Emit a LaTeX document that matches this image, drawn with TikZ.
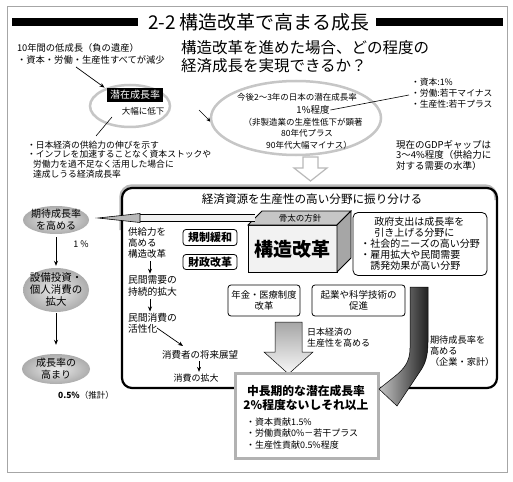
\documentclass[tikz,border=0pt]{standalone}
\usepackage{fontspec}
\setmainfont{Noto Sans CJK JP}
\usetikzlibrary{shapes.geometric,arrows.meta}
\newcommand{\myfs}[2]{\fontsize{#1}{#2}\selectfont}
\begin{document}
\begin{tikzpicture}[x=1pt,y=-1pt,
  tx/.style={inner sep=0pt, outer sep=0pt},
  arr/.style={-{Stealth[length=5pt,width=4pt]}, line width=0.7pt},
  rbox/.style={draw, rounded corners=3pt, line width=0.8pt, fill=white, inner sep=0pt},
  grayell/.style={ellipse, inner sep=0pt, inner color=gray!15, outer color=gray!65},
  ring/.style={ellipse, draw=gray!45, line width=2.5pt, inner sep=0pt}]
\useasboundingbox (0,0) rectangle (513,481);
\fill[white] (0,0) rectangle (513,481);
\draw[gray!70, line width=0.8pt] (7,6) rectangle (507,472);

% title
\fill (12,18) rectangle (138,26);
\fill (376,18) rectangle (503,26);
\node[tx, font=\myfs{19}{22}] (title) at (259,22) {2-2 構造改革で高まる成長};

% top-left
\node[tx, anchor=west, align=left, font=\myfs{9.3}{12}] (legacy) at (17,53.5) {10年間の低成長（負の遺産）\\・資本・労働・生産性すべてが減少};
\node[tx, anchor=west, align=left, font=\myfs{15.5}{18}] (q) at (181,57) {構造改革を進めた場合、どの程度の\\経済成長を実現できるか？};

% ellipse 1
\node[ring, minimum width=80pt, minimum height=42pt] (e1) at (130,106) {};
\node[tx, fill=black, text=white, inner xsep=3pt, inner ysep=2pt, font=\myfs{10}{12}] (sz) at (135,95) {潜在成長率};
\node[tx, font=\myfs{8.5}{10}] (teika) at (143,111) {大幅に低下};
\coordinate (a1) at (76,67);
\draw[arr, shorten >=1pt] (a1) -- (e1);

\node[tx, anchor=west, align=left, font=\myfs{8.8}{9.8}] (expl) at (27,159.5) {・日本経済の供給力の伸びを示す\\・インフレを加速することなく資本ストックや\\\hspace*{6pt}労働力を過不足なく活用した場合に\\\hspace*{6pt}達成しうる経済成長率};
\coordinate (l1) at (112,117);
\coordinate (l2) at (96,136);
\draw[line width=0.6pt] (l1) -- (l2);

% ellipse 2
\coordinate (a2) at (199,110);
\coordinate (a2e) at (211,122);
\draw[arr] (a2) -- (a2e);
\node[ring, minimum width=170pt, minimum height=74pt] (e2) at (296,118) {};
\node[tx, font=\myfs{8.5}{10}] (e2a) at (297,97) {今後2～3年の日本の潜在成長率};
\node[tx, font=\myfs{9.5}{11}] (p1) at (313,110) {1\%程度};
\node[tx, font=\myfs{8.5}{10}] (e2c) at (303,122) {（非製造業の生産性低下が顕著};
\node[tx, font=\myfs{8.5}{10}] (e2d) at (307,133) {80年代プラス};
\node[tx, font=\myfs{8.5}{10}] (e2e) at (309,145) {90年代大幅マイナス）};

\node[tx, anchor=west, align=left, font=\myfs{8.8}{11}] (rl) at (411,93) {・資本:1\%\\・労働:若干マイナス\\・生産性:若干プラス};
\draw[line width=0.6pt] ([xshift=1pt]p1.east) -- ([xshift=-2pt,yshift=-2pt]rl.west);

\node[tx, anchor=west, align=left, font=\myfs{9.5}{10.5}] (gdp) at (396,155) {現在のGDPギャップは\\3～4\%程度（供給力に\\対する需要の水準）};

% hollow arrow
\draw[gray!55, line width=1.2pt, fill=white, line join=miter] (303,157) -- (318,157) -- (318,168) -- (327,168) -- (310.5,181) -- (294,168) -- (303,168) -- cycle;

% main panel
\draw[gray!55, line width=3.5pt, rounded corners=11pt] (121,230) -- (121,186) -- (496,186) -- (496,200);
\draw[line width=2.2pt, rounded corners=10pt] (122,188) rectangle (497,388);
\node[tx, font=\myfs{11.6}{13}] (hdr) at (312,199) {経済資源を生産性の高い分野に振り分ける};

% 3D block
\fill[gray!10] (248,225) rectangle (337,272);
\draw[line width=0.8pt] (248,225) rectangle (337,272);
\filldraw[fill=gray!45, line width=0.8pt] (248,225) -- (262,211) -- (351,211) -- (337,225) -- cycle;
\filldraw[fill=gray!70, line width=0.8pt] (337,225) -- (351,211) -- (351,258) -- (337,272) -- cycle;
\node[tx, font=\myfs{8.5}{10}] (hone) at (300,218) {骨太の方針};
\node[tx, font=\bfseries\myfs{19}{22}] (kozo) at (292,249) {構造改革};

% long left arrow
\fill[gray!12] (140,214.5) rectangle (255,221.5);
\draw[line width=0.6pt] (140,214.5) -- (255,214.5) (140,221.5) -- (255,221.5);
\filldraw[fill=gray!55, line width=0.6pt] (98,218) -- (140,213.5) -- (140,222.5) -- cycle;

\node[rbox, minimum width=54pt, minimum height=16pt, font=\bfseries\myfs{11}{12}] (kisei) at (210,237.5) {規制緩和};
\node[rbox, minimum width=54pt, minimum height=15pt, font=\bfseries\myfs{11}{12}] (zaisei) at (210,262) {財政改革};

% left column in panel
\node[tx, anchor=west, align=left, font=\myfs{9.5}{11}] (kyo) at (128,243) {供給力を\\高める\\構造改革};
\node[tx, anchor=west, align=left, font=\myfs{9.8}{12}] (min) at (128,286) {民間需要の\\持続的拡大};
\node[tx, anchor=west, align=left, font=\myfs{9.8}{11}] (shohi) at (128,323.5) {民間消費の\\活性化};
\draw[arr, shorten <=3pt, shorten >=2pt] (150,0 |- kyo.south) -- (150,0 |- min.north);
\draw[arr, shorten <=3pt, shorten >=2pt] (150,0 |- min.south) -- (150,0 |- shohi.north);
\node[tx, font=\myfs{9.5}{11}] (shorai) at (200,355) {消費者の将来展望};
\node[tx, font=\myfs{9}{11}] (kakudai) at (196,378) {消費の拡大};
\coordinate (d1) at (157,328);
\coordinate (d2) at (183,346);
\draw[arr] (d1) -- (d2);
\draw[arr, shorten <=2pt, shorten >=2pt] (199,0 |- shorai.south) -- (199,0 |- kakudai.north);

\node[rbox, minimum width=72pt, minimum height=31pt, align=center, font=\myfs{9.3}{10.5}] (nenkin) at (264,300.5) {年金・医療制度\\改革};
\node[rbox, minimum width=93pt, minimum height=31pt, align=center, font=\myfs{9.5}{10.5}] (kigyo) at (358.5,300.5) {起業や科学技術の\\促進};

% gray down arrow
\path[draw, line width=0.5pt, top color=gray!70, bottom color=gray!5] (275,322) -- (302,322) -- (302,352) -- (313,352) -- (288.5,374) -- (264,352) -- (275,352) -- cycle;
\node[tx, anchor=west, align=left, font=\myfs{9}{11}] (seisan) at (307,337.5) {日本経済の\\生産性を高める};

\node[rbox, rounded corners=5pt, minimum width=134pt, minimum height=63pt, align=left, font=\myfs{10}{11}] (seifu) at (420,244) {\hspace*{14pt}政府支出は成長率を\\\hspace*{14pt}引き上げる分野に\\・社会的ニーズの高い分野\\・雇用拡大や民間需要\\\hspace*{10pt}誘発効果が高い分野};

\node[tx, anchor=west, align=left, font=\myfs{9.2}{11}] (kitai2) at (430,351) {期待成長率を\\高める\\（企業・家計）};

% left ellipses
\node[grayell, minimum width=66pt, minimum height=28pt] (k1) at (56,220) {};
\node[tx, align=center, font=\myfs{10}{12}] (k1t) at (k1) {期待成長率\\を高める};
\node[grayell, minimum width=66pt, minimum height=44pt] (k2) at (56,290) {};
\node[tx, align=center, font=\myfs{10.5}{12}] (k2t) at (k2) {設備投資・\\個人消費の\\拡大};
\node[grayell, minimum width=68pt, minimum height=30pt] (k3) at (56,369) {};
\node[tx, align=center, font=\myfs{10}{12}] (k3t) at (k3) {成長率の\\高まり};
\node[tx, font=\myfs{9}{10}] (one1) at (81,244) {1 \%};
\node[tx, font=\myfs{8.5}{10}] (sui) at (86,395) {\textbf{0.5\%}（推計）};
\draw[arr, shorten <=3pt, shorten >=2pt] (k1) -- (k2);
\draw[arr, shorten <=1pt, shorten >=9pt] (k2) -- (k3);

% bottom box
\node[draw=gray!60, line width=3pt, fill=white, minimum width=143pt, minimum height=85pt, inner sep=0pt] (chu) at (306.5,415.5) {};
\node[tx, align=center, font=\bfseries\myfs{11.8}{14}] (chut) at (306,398) {中長期的な潜在成長率\\2\%程度ないしそれ以上};
\node[tx, anchor=west, align=left, font=\myfs{9}{11.5}] (chub) at (246,433.5) {・資本貢献1.5\%\\・労働貢献0\%－若干プラス\\・生産性貢献0.5\%程度};

% dark curved arrow
\path[draw=black, line width=0.5pt, left color=gray!45, right color=gray!25!black] (410,287) -- (428,287) -- (428,342) .. controls (428,356) and (425,364) .. (421,370) -- (397,406) -- (379,389) -- (394,377) .. controls (404,369) and (410,362) .. (410,348) -- cycle;
\end{tikzpicture}
\end{document}
